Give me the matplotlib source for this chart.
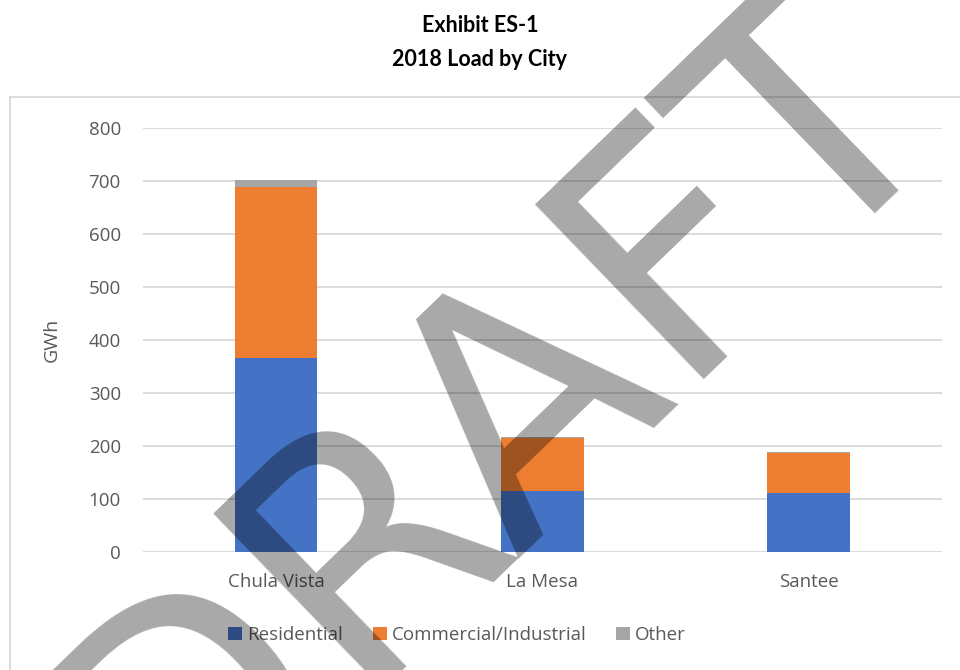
import matplotlib
matplotlib.use("Agg")
import matplotlib.pyplot as plt
import numpy as np
from matplotlib.patches import Rectangle

cities = ["Chula Vista", "La Mesa", "Santee"]
residential = [367, 115, 111]
commercial = [322, 101, 75]
other = [13, 2, 3]

series_names = ["Residential", "Commercial/Industrial", "Other"]
colors = ["#4472C4", "#ED7D31", "#A5A5A5"]

label_color = "#595959"
grid_color = "#D9D9D9"

fig = plt.figure(figsize=(9.6, 6.7), dpi=100)
ax = fig.add_axes([0.149, 0.176, 0.832, 0.633])

x = np.arange(len(cities))
width = 0.31
bottom = np.zeros(len(cities))
handles = []
for name, vals, col in zip(series_names, [residential, commercial, other], colors):
    vals = np.array(vals, dtype=float)
    b = ax.bar(x, vals, width, bottom=bottom, color=col, label=name, zorder=3)
    handles.append(b)
    bottom += vals

ax.set_xlim(-0.5, len(cities) - 0.5)
ax.set_ylim(0, 800)
ax.set_yticks(np.arange(0, 801, 100))
ax.set_xticks(x)
ax.set_xticklabels(cities)
ax.grid(axis="y", color=grid_color, linewidth=1.3, zorder=0)
for s in ax.spines.values():
    s.set_visible(False)
ax.tick_params(axis="both", length=0, labelcolor=label_color, labelsize=13.5)
ax.tick_params(axis="y", pad=16)
ax.tick_params(axis="x", pad=15)
for lbl in ax.get_xticklabels() + ax.get_yticklabels():
    lbl.set_fontfamily("Open Sans")

ax.set_ylabel("GWh", color=label_color, fontsize=14, fontfamily="Open Sans")
ax.yaxis.set_label_coords(-0.103, 0.5)

fig.legend(handles, series_names, loc="center", bbox_to_anchor=(0.476, 0.052),
           ncol=3, frameon=False, handlelength=0.75, handleheight=0.75,
           handletextpad=0.25, columnspacing=1.6,
           prop={"family": "Open Sans", "size": 13.5}, labelcolor=label_color)

# chart frame
fig.patches.append(Rectangle((10 / 960, -0.1), 1.1, 1.1 - 97 / 670,
                             transform=fig.transFigure, fill=False,
                             edgecolor=grid_color, linewidth=1.3, zorder=0))

fig.text(0.5, 1 - 25 / 670, "Exhibit ES-1", ha="center", va="center",
         fontsize=15.5, fontweight="bold", fontfamily="Lato")
fig.text(0.5, 1 - 60 / 670, "2018 Load by City", ha="center", va="center",
         fontsize=15.5, fontweight="bold", fontfamily="Lato")

# watermark
fig.text(0.515, 0.372, "DRAFT", ha="center", va="center", rotation=44,
         fontsize=240, color="black", alpha=0.34, fontfamily="DejaVu Sans",
         zorder=10)

fig.savefig("out.png", dpi=100)
